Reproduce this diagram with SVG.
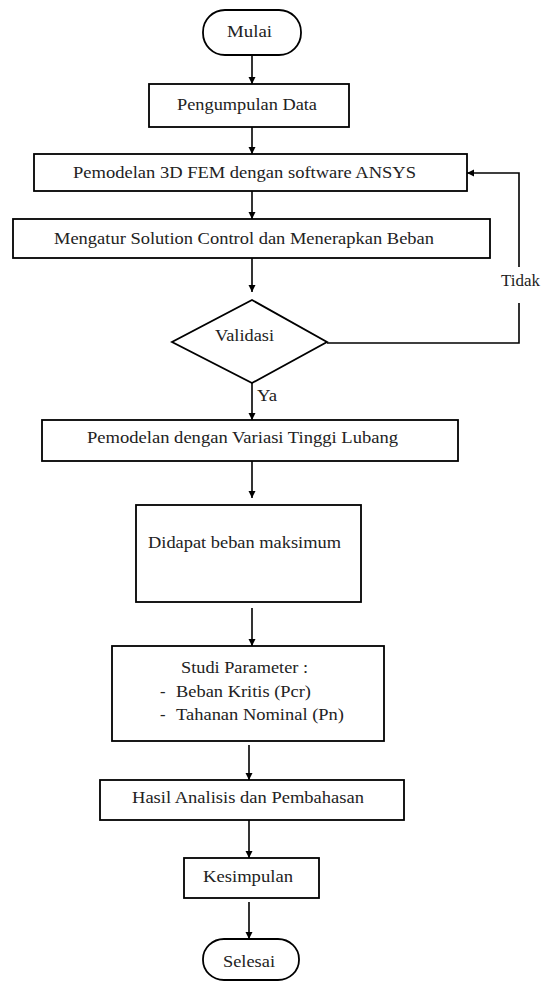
<svg xmlns="http://www.w3.org/2000/svg" width="545" height="981" viewBox="0 0 545 981">
<style>
.b{fill:#fff;stroke:#000;stroke-width:1.8}
.c{fill:none;stroke:#000;stroke-width:1.6}
.t{font-family:"Liberation Serif","Times New Roman",serif;font-size:16.5px;fill:#222}
</style>
<defs>
<marker id="ah" markerUnits="userSpaceOnUse" markerWidth="8" markerHeight="8" refX="7" refY="4" orient="auto">
<path d="M0,0.5 L7,4 L0,7.5 z" fill="#000"/>
</marker>
</defs>
<rect width="545" height="981" fill="#fff"/>
<g id="connectors">
<line class="c" x1="252" y1="55" x2="252" y2="84" marker-end="url(#ah)"/>
<line class="c" x1="252" y1="127" x2="252" y2="154" marker-end="url(#ah)"/>
<line class="c" x1="252" y1="191" x2="252" y2="219" marker-end="url(#ah)"/>
<line class="c" x1="252" y1="258" x2="252" y2="292" marker-end="url(#ah)"/>
<line class="c" x1="252" y1="383" x2="252" y2="420" marker-end="url(#ah)"/>
<line class="c" x1="252" y1="461" x2="252" y2="498" marker-end="url(#ah)"/>
<line class="c" x1="252" y1="608" x2="252" y2="646" marker-end="url(#ah)"/>
<line class="c" x1="249" y1="745" x2="249" y2="780" marker-end="url(#ah)"/>
<line class="c" x1="249" y1="820" x2="249" y2="858" marker-end="url(#ah)"/>
<line class="c" x1="249" y1="902" x2="249" y2="939" marker-end="url(#ah)"/>
<polyline class="c" points="327,343 519,343 519,303"/>
<polyline class="c" points="519,267 519,173 467,173" marker-end="url(#ah)"/>
<text class="t" x="501" y="286" textLength="39" lengthAdjust="spacingAndGlyphs">Tidak</text>
<text class="t" x="257" y="401" textLength="20" lengthAdjust="spacingAndGlyphs">Ya</text>
</g>
<g id="mulai">
<rect class="b" x="203" y="10" width="98" height="45" rx="22" ry="22"/>
<text class="t" x="227" y="37" textLength="45" lengthAdjust="spacingAndGlyphs">Mulai</text>
</g>
<g id="pengumpulan">
<rect class="b" x="149" y="84" width="200" height="43"/>
<text class="t" x="177" y="110" textLength="140" lengthAdjust="spacingAndGlyphs">Pengumpulan Data</text>
</g>
<g id="pemodelan3d">
<rect class="b" x="34" y="154" width="433" height="37"/>
<text class="t" x="73" y="178" textLength="343" lengthAdjust="spacingAndGlyphs">Pemodelan 3D FEM dengan software ANSYS</text>
</g>
<g id="mengatur">
<rect class="b" x="13" y="219" width="477" height="39"/>
<text class="t" x="54" y="244" textLength="380" lengthAdjust="spacingAndGlyphs">Mengatur Solution Control dan Menerapkan Beban</text>
</g>
<g id="validasi">
<polygon class="b" points="252,300 327,342 252,383 172,342"/>
<text class="t" x="215" y="341" textLength="59" lengthAdjust="spacingAndGlyphs">Validasi</text>
</g>
<g id="variasi">
<rect class="b" x="42" y="420" width="416" height="41"/>
<text class="t" x="87" y="443" textLength="311" lengthAdjust="spacingAndGlyphs">Pemodelan dengan Variasi Tinggi Lubang</text>
</g>
<g id="didapat">
<rect class="b" x="136" y="505" width="225" height="97"/>
<text class="t" x="148" y="548" textLength="193" lengthAdjust="spacingAndGlyphs">Didapat beban maksimum</text>
</g>
<g id="studi">
<rect class="b" x="112" y="646" width="272" height="95"/>
<text class="t" x="181" y="673" textLength="127" lengthAdjust="spacingAndGlyphs">Studi Parameter :</text>
<text class="t" y="697"><tspan x="160">-</tspan><tspan x="176" textLength="135" lengthAdjust="spacingAndGlyphs">Beban Kritis (Pcr)</tspan></text>
<text class="t" y="720"><tspan x="160">-</tspan><tspan x="176" textLength="168" lengthAdjust="spacingAndGlyphs">Tahanan Nominal (Pn)</tspan></text>
</g>
<g id="hasil">
<rect class="b" x="100" y="780" width="304" height="40"/>
<text class="t" x="132" y="803" textLength="232" lengthAdjust="spacingAndGlyphs">Hasil Analisis dan Pembahasan</text>
</g>
<g id="kesimpulan">
<rect class="b" x="184" y="858" width="135" height="40"/>
<text class="t" x="203" y="882" textLength="90" lengthAdjust="spacingAndGlyphs">Kesimpulan</text>
</g>
<g id="selesai">
<rect class="b" x="203" y="939" width="96" height="41" rx="21" ry="20"/>
<text class="t" x="223" y="967" textLength="52" lengthAdjust="spacingAndGlyphs">Selesai</text>
</g>
</svg>
